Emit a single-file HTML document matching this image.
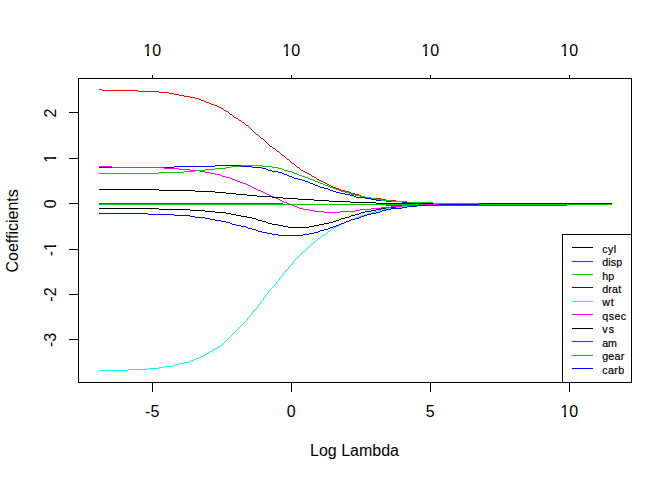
<!DOCTYPE html>
<html><head><meta charset="utf-8"><title>Ridge coefficients vs Log Lambda</title>
<style>
html,body{margin:0;padding:0;background:#fff;}
body{width:672px;height:480px;overflow:hidden;font-family:"Liberation Sans",sans-serif;}
svg{display:block;}
text{font-family:"Liberation Sans",sans-serif;fill:#000;}
</style></head><body>
<svg width="672" height="480" viewBox="0 0 672 480">
<rect width="672" height="480" fill="#fff"/>
<g shape-rendering="crispEdges">
<path fill="#000000" d="M152 75h1v1h-1zM291 75h1v1h-1zM430 75h1v1h-1zM569 75h1v1h-1zM152 76h1v1h-1zM291 76h1v1h-1zM430 76h1v1h-1zM569 76h1v1h-1zM152 77h1v1h-1zM291 77h1v1h-1zM430 77h1v1h-1zM569 77h1v1h-1zM78 78h554v1h-554zM78 79h1v1h-1zM631 79h1v1h-1zM78 80h1v1h-1zM631 80h1v1h-1zM78 81h1v1h-1zM631 81h1v1h-1zM78 82h1v1h-1zM631 82h1v1h-1zM78 83h1v1h-1zM631 83h1v1h-1zM78 84h1v1h-1zM631 84h1v1h-1zM78 85h1v1h-1zM631 85h1v1h-1zM78 86h1v1h-1zM631 86h1v1h-1zM78 87h1v1h-1zM631 87h1v1h-1zM78 88h1v1h-1zM631 88h1v1h-1zM78 89h1v1h-1zM631 89h1v1h-1zM78 90h1v1h-1zM631 90h1v1h-1zM78 91h1v1h-1zM631 91h1v1h-1zM78 92h1v1h-1zM631 92h1v1h-1zM78 93h1v1h-1zM631 93h1v1h-1zM78 94h1v1h-1zM631 94h1v1h-1zM78 95h1v1h-1zM631 95h1v1h-1zM78 96h1v1h-1zM631 96h1v1h-1zM78 97h1v1h-1zM631 97h1v1h-1zM78 98h1v1h-1zM631 98h1v1h-1zM78 99h1v1h-1zM631 99h1v1h-1zM78 100h1v1h-1zM631 100h1v1h-1zM78 101h1v1h-1zM631 101h1v1h-1zM78 102h1v1h-1zM631 102h1v1h-1zM78 103h1v1h-1zM631 103h1v1h-1zM78 104h1v1h-1zM631 104h1v1h-1zM78 105h1v1h-1zM631 105h1v1h-1zM78 106h1v1h-1zM631 106h1v1h-1zM78 107h1v1h-1zM631 107h1v1h-1zM78 108h1v1h-1zM631 108h1v1h-1zM78 109h1v1h-1zM631 109h1v1h-1zM78 110h1v1h-1zM631 110h1v1h-1zM78 111h1v1h-1zM631 111h1v1h-1zM69 112h10v1h-10zM631 112h1v1h-1zM78 113h1v1h-1zM631 113h1v1h-1zM78 114h1v1h-1zM631 114h1v1h-1zM78 115h1v1h-1zM631 115h1v1h-1zM78 116h1v1h-1zM631 116h1v1h-1zM78 117h1v1h-1zM631 117h1v1h-1zM78 118h1v1h-1zM631 118h1v1h-1zM78 119h1v1h-1zM631 119h1v1h-1zM78 120h1v1h-1zM631 120h1v1h-1zM78 121h1v1h-1zM631 121h1v1h-1zM78 122h1v1h-1zM631 122h1v1h-1zM78 123h1v1h-1zM631 123h1v1h-1zM78 124h1v1h-1zM631 124h1v1h-1zM78 125h1v1h-1zM631 125h1v1h-1zM78 126h1v1h-1zM631 126h1v1h-1zM78 127h1v1h-1zM631 127h1v1h-1zM78 128h1v1h-1zM631 128h1v1h-1zM78 129h1v1h-1zM631 129h1v1h-1zM78 130h1v1h-1zM631 130h1v1h-1zM78 131h1v1h-1zM631 131h1v1h-1zM78 132h1v1h-1zM631 132h1v1h-1zM78 133h1v1h-1zM631 133h1v1h-1zM78 134h1v1h-1zM631 134h1v1h-1zM78 135h1v1h-1zM631 135h1v1h-1zM78 136h1v1h-1zM631 136h1v1h-1zM78 137h1v1h-1zM631 137h1v1h-1zM78 138h1v1h-1zM631 138h1v1h-1zM78 139h1v1h-1zM631 139h1v1h-1zM78 140h1v1h-1zM631 140h1v1h-1zM78 141h1v1h-1zM631 141h1v1h-1zM78 142h1v1h-1zM631 142h1v1h-1zM78 143h1v1h-1zM631 143h1v1h-1zM78 144h1v1h-1zM631 144h1v1h-1zM78 145h1v1h-1zM631 145h1v1h-1zM78 146h1v1h-1zM631 146h1v1h-1zM78 147h1v1h-1zM631 147h1v1h-1zM78 148h1v1h-1zM631 148h1v1h-1zM78 149h1v1h-1zM631 149h1v1h-1zM78 150h1v1h-1zM631 150h1v1h-1zM78 151h1v1h-1zM631 151h1v1h-1zM78 152h1v1h-1zM631 152h1v1h-1zM78 153h1v1h-1zM631 153h1v1h-1zM78 154h1v1h-1zM631 154h1v1h-1zM78 155h1v1h-1zM631 155h1v1h-1zM78 156h1v1h-1zM631 156h1v1h-1zM78 157h1v1h-1zM631 157h1v1h-1zM69 158h10v1h-10zM631 158h1v1h-1zM78 159h1v1h-1zM631 159h1v1h-1zM78 160h1v1h-1zM631 160h1v1h-1zM78 161h1v1h-1zM631 161h1v1h-1zM78 162h1v1h-1zM631 162h1v1h-1zM78 163h1v1h-1zM631 163h1v1h-1zM78 164h1v1h-1zM631 164h1v1h-1zM78 165h1v1h-1zM631 165h1v1h-1zM78 166h1v1h-1zM631 166h1v1h-1zM78 167h1v1h-1zM631 167h1v1h-1zM78 168h1v1h-1zM631 168h1v1h-1zM78 169h1v1h-1zM631 169h1v1h-1zM78 170h1v1h-1zM631 170h1v1h-1zM78 171h1v1h-1zM631 171h1v1h-1zM78 172h1v1h-1zM631 172h1v1h-1zM78 173h1v1h-1zM631 173h1v1h-1zM78 174h1v1h-1zM631 174h1v1h-1zM78 175h1v1h-1zM631 175h1v1h-1zM78 176h1v1h-1zM631 176h1v1h-1zM78 177h1v1h-1zM631 177h1v1h-1zM78 178h1v1h-1zM631 178h1v1h-1zM78 179h1v1h-1zM631 179h1v1h-1zM78 180h1v1h-1zM631 180h1v1h-1zM78 181h1v1h-1zM631 181h1v1h-1zM78 182h1v1h-1zM631 182h1v1h-1zM78 183h1v1h-1zM631 183h1v1h-1zM78 184h1v1h-1zM631 184h1v1h-1zM78 185h1v1h-1zM631 185h1v1h-1zM78 186h1v1h-1zM631 186h1v1h-1zM78 187h1v1h-1zM631 187h1v1h-1zM78 188h1v1h-1zM631 188h1v1h-1zM78 189h1v1h-1zM99 189h60v1h-60zM631 189h1v1h-1zM78 190h1v1h-1zM159 190h36v1h-36zM631 190h1v1h-1zM78 191h1v1h-1zM195 191h20v1h-20zM631 191h1v1h-1zM78 192h1v1h-1zM215 192h11v1h-11zM631 192h1v1h-1zM78 193h1v1h-1zM226 193h10v1h-10zM631 193h1v1h-1zM78 194h1v1h-1zM236 194h11v1h-11zM631 194h1v1h-1zM78 195h1v1h-1zM247 195h10v1h-10zM631 195h1v1h-1zM78 196h1v1h-1zM257 196h15v1h-15zM631 196h1v1h-1zM78 197h1v1h-1zM272 197h11v1h-11zM631 197h1v1h-1zM78 198h1v1h-1zM283 198h15v1h-15zM631 198h1v1h-1zM78 199h1v1h-1zM298 199h16v1h-16zM631 199h1v1h-1zM78 200h1v1h-1zM314 200h15v1h-15zM631 200h1v1h-1zM78 201h1v1h-1zM329 201h21v1h-21zM631 201h1v1h-1zM78 202h1v1h-1zM350 202h26v1h-26zM631 202h1v1h-1zM69 203h10v1h-10zM376 203h57v1h-57zM631 203h1v1h-1zM78 204h1v1h-1zM631 204h1v1h-1zM78 205h1v1h-1zM631 205h1v1h-1zM78 206h1v1h-1zM631 206h1v1h-1zM78 207h1v1h-1zM391 207h5v1h-5zM631 207h1v1h-1zM78 208h1v1h-1zM99 208h60v1h-60zM381 208h5v1h-5zM631 208h1v1h-1zM78 209h1v1h-1zM159 209h31v1h-31zM376 209h5v1h-5zM631 209h1v1h-1zM78 210h1v1h-1zM190 210h15v1h-15zM371 210h5v1h-5zM631 210h1v1h-1zM78 211h1v1h-1zM205 211h10v1h-10zM365 211h6v1h-6zM631 211h1v1h-1zM78 212h1v1h-1zM215 212h11v1h-11zM361 212h4v1h-4zM631 212h1v1h-1zM78 213h1v1h-1zM226 213h5v1h-5zM359 213h2v1h-2zM631 213h1v1h-1zM78 214h1v1h-1zM231 214h5v1h-5zM355 214h4v1h-4zM631 214h1v1h-1zM78 215h1v1h-1zM236 215h5v1h-5zM351 215h4v1h-4zM631 215h1v1h-1zM78 216h1v1h-1zM241 216h6v1h-6zM349 216h2v1h-2zM631 216h1v1h-1zM78 217h1v1h-1zM247 217h5v1h-5zM345 217h4v1h-4zM631 217h1v1h-1zM78 218h1v1h-1zM252 218h4v1h-4zM341 218h4v1h-4zM631 218h1v1h-1zM78 219h1v1h-1zM256 219h2v1h-2zM339 219h2v1h-2zM631 219h1v1h-1zM78 220h1v1h-1zM258 220h4v1h-4zM336 220h3v1h-3zM631 220h1v1h-1zM78 221h1v1h-1zM262 221h4v1h-4zM333 221h3v1h-3zM631 221h1v1h-1zM78 222h1v1h-1zM266 222h2v1h-2zM329 222h4v1h-4zM631 222h1v1h-1zM78 223h1v1h-1zM268 223h4v1h-4zM324 223h5v1h-5zM631 223h1v1h-1zM78 224h1v1h-1zM272 224h6v1h-6zM319 224h5v1h-5zM631 224h1v1h-1zM78 225h1v1h-1zM278 225h5v1h-5zM314 225h5v1h-5zM631 225h1v1h-1zM78 226h1v1h-1zM283 226h5v1h-5zM309 226h5v1h-5zM631 226h1v1h-1zM78 227h1v1h-1zM288 227h21v1h-21zM631 227h1v1h-1zM78 228h1v1h-1zM631 228h1v1h-1zM78 229h1v1h-1zM631 229h1v1h-1zM78 230h1v1h-1zM631 230h1v1h-1zM78 231h1v1h-1zM631 231h1v1h-1zM78 232h1v1h-1zM631 232h1v1h-1zM78 233h1v1h-1zM631 233h1v1h-1zM78 234h1v1h-1zM562 234h70v1h-70zM78 235h1v1h-1zM562 235h1v1h-1zM631 235h1v1h-1zM78 236h1v1h-1zM562 236h1v1h-1zM631 236h1v1h-1zM78 237h1v1h-1zM562 237h1v1h-1zM631 237h1v1h-1zM78 238h1v1h-1zM562 238h1v1h-1zM631 238h1v1h-1zM78 239h1v1h-1zM562 239h1v1h-1zM631 239h1v1h-1zM78 240h1v1h-1zM562 240h1v1h-1zM631 240h1v1h-1zM78 241h1v1h-1zM562 241h1v1h-1zM631 241h1v1h-1zM78 242h1v1h-1zM562 242h1v1h-1zM631 242h1v1h-1zM78 243h1v1h-1zM562 243h1v1h-1zM631 243h1v1h-1zM78 244h1v1h-1zM562 244h1v1h-1zM631 244h1v1h-1zM78 245h1v1h-1zM562 245h1v1h-1zM631 245h1v1h-1zM78 246h1v1h-1zM562 246h1v1h-1zM631 246h1v1h-1zM78 247h1v1h-1zM562 247h1v1h-1zM572 247h21v1h-21zM631 247h1v1h-1zM78 248h1v1h-1zM562 248h1v1h-1zM631 248h1v1h-1zM69 249h10v1h-10zM562 249h1v1h-1zM631 249h1v1h-1zM78 250h1v1h-1zM562 250h1v1h-1zM631 250h1v1h-1zM78 251h1v1h-1zM562 251h1v1h-1zM631 251h1v1h-1zM78 252h1v1h-1zM562 252h1v1h-1zM631 252h1v1h-1zM78 253h1v1h-1zM562 253h1v1h-1zM631 253h1v1h-1zM78 254h1v1h-1zM562 254h1v1h-1zM631 254h1v1h-1zM78 255h1v1h-1zM562 255h1v1h-1zM631 255h1v1h-1zM78 256h1v1h-1zM562 256h1v1h-1zM631 256h1v1h-1zM78 257h1v1h-1zM562 257h1v1h-1zM631 257h1v1h-1zM78 258h1v1h-1zM562 258h1v1h-1zM631 258h1v1h-1zM78 259h1v1h-1zM562 259h1v1h-1zM631 259h1v1h-1zM78 260h1v1h-1zM562 260h1v1h-1zM631 260h1v1h-1zM78 261h1v1h-1zM562 261h1v1h-1zM631 261h1v1h-1zM78 262h1v1h-1zM562 262h1v1h-1zM631 262h1v1h-1zM78 263h1v1h-1zM562 263h1v1h-1zM631 263h1v1h-1zM78 264h1v1h-1zM562 264h1v1h-1zM631 264h1v1h-1zM78 265h1v1h-1zM562 265h1v1h-1zM631 265h1v1h-1zM78 266h1v1h-1zM562 266h1v1h-1zM631 266h1v1h-1zM78 267h1v1h-1zM562 267h1v1h-1zM631 267h1v1h-1zM78 268h1v1h-1zM562 268h1v1h-1zM631 268h1v1h-1zM78 269h1v1h-1zM562 269h1v1h-1zM631 269h1v1h-1zM78 270h1v1h-1zM562 270h1v1h-1zM631 270h1v1h-1zM78 271h1v1h-1zM562 271h1v1h-1zM631 271h1v1h-1zM78 272h1v1h-1zM562 272h1v1h-1zM631 272h1v1h-1zM78 273h1v1h-1zM562 273h1v1h-1zM631 273h1v1h-1zM78 274h1v1h-1zM562 274h1v1h-1zM631 274h1v1h-1zM78 275h1v1h-1zM562 275h1v1h-1zM631 275h1v1h-1zM78 276h1v1h-1zM562 276h1v1h-1zM631 276h1v1h-1zM78 277h1v1h-1zM562 277h1v1h-1zM631 277h1v1h-1zM78 278h1v1h-1zM562 278h1v1h-1zM631 278h1v1h-1zM78 279h1v1h-1zM562 279h1v1h-1zM631 279h1v1h-1zM78 280h1v1h-1zM562 280h1v1h-1zM631 280h1v1h-1zM78 281h1v1h-1zM562 281h1v1h-1zM631 281h1v1h-1zM78 282h1v1h-1zM562 282h1v1h-1zM631 282h1v1h-1zM78 283h1v1h-1zM562 283h1v1h-1zM631 283h1v1h-1zM78 284h1v1h-1zM562 284h1v1h-1zM631 284h1v1h-1zM78 285h1v1h-1zM562 285h1v1h-1zM631 285h1v1h-1zM78 286h1v1h-1zM562 286h1v1h-1zM631 286h1v1h-1zM78 287h1v1h-1zM562 287h1v1h-1zM631 287h1v1h-1zM78 288h1v1h-1zM562 288h1v1h-1zM631 288h1v1h-1zM78 289h1v1h-1zM562 289h1v1h-1zM631 289h1v1h-1zM78 290h1v1h-1zM562 290h1v1h-1zM631 290h1v1h-1zM78 291h1v1h-1zM562 291h1v1h-1zM631 291h1v1h-1zM78 292h1v1h-1zM562 292h1v1h-1zM631 292h1v1h-1zM78 293h1v1h-1zM562 293h1v1h-1zM631 293h1v1h-1zM69 294h10v1h-10zM562 294h1v1h-1zM631 294h1v1h-1zM78 295h1v1h-1zM562 295h1v1h-1zM631 295h1v1h-1zM78 296h1v1h-1zM562 296h1v1h-1zM631 296h1v1h-1zM78 297h1v1h-1zM562 297h1v1h-1zM631 297h1v1h-1zM78 298h1v1h-1zM562 298h1v1h-1zM631 298h1v1h-1zM78 299h1v1h-1zM562 299h1v1h-1zM631 299h1v1h-1zM78 300h1v1h-1zM562 300h1v1h-1zM631 300h1v1h-1zM78 301h1v1h-1zM562 301h1v1h-1zM631 301h1v1h-1zM78 302h1v1h-1zM562 302h1v1h-1zM631 302h1v1h-1zM78 303h1v1h-1zM562 303h1v1h-1zM631 303h1v1h-1zM78 304h1v1h-1zM562 304h1v1h-1zM631 304h1v1h-1zM78 305h1v1h-1zM562 305h1v1h-1zM631 305h1v1h-1zM78 306h1v1h-1zM562 306h1v1h-1zM631 306h1v1h-1zM78 307h1v1h-1zM562 307h1v1h-1zM631 307h1v1h-1zM78 308h1v1h-1zM562 308h1v1h-1zM631 308h1v1h-1zM78 309h1v1h-1zM562 309h1v1h-1zM631 309h1v1h-1zM78 310h1v1h-1zM562 310h1v1h-1zM631 310h1v1h-1zM78 311h1v1h-1zM562 311h1v1h-1zM631 311h1v1h-1zM78 312h1v1h-1zM562 312h1v1h-1zM631 312h1v1h-1zM78 313h1v1h-1zM562 313h1v1h-1zM631 313h1v1h-1zM78 314h1v1h-1zM562 314h1v1h-1zM631 314h1v1h-1zM78 315h1v1h-1zM562 315h1v1h-1zM631 315h1v1h-1zM78 316h1v1h-1zM562 316h1v1h-1zM631 316h1v1h-1zM78 317h1v1h-1zM562 317h1v1h-1zM631 317h1v1h-1zM78 318h1v1h-1zM562 318h1v1h-1zM631 318h1v1h-1zM78 319h1v1h-1zM562 319h1v1h-1zM631 319h1v1h-1zM78 320h1v1h-1zM562 320h1v1h-1zM631 320h1v1h-1zM78 321h1v1h-1zM562 321h1v1h-1zM631 321h1v1h-1zM78 322h1v1h-1zM562 322h1v1h-1zM631 322h1v1h-1zM78 323h1v1h-1zM562 323h1v1h-1zM631 323h1v1h-1zM78 324h1v1h-1zM562 324h1v1h-1zM631 324h1v1h-1zM78 325h1v1h-1zM562 325h1v1h-1zM631 325h1v1h-1zM78 326h1v1h-1zM562 326h1v1h-1zM631 326h1v1h-1zM78 327h1v1h-1zM562 327h1v1h-1zM631 327h1v1h-1zM78 328h1v1h-1zM562 328h1v1h-1zM572 328h21v1h-21zM631 328h1v1h-1zM78 329h1v1h-1zM562 329h1v1h-1zM631 329h1v1h-1zM78 330h1v1h-1zM562 330h1v1h-1zM631 330h1v1h-1zM78 331h1v1h-1zM562 331h1v1h-1zM631 331h1v1h-1zM78 332h1v1h-1zM562 332h1v1h-1zM631 332h1v1h-1zM78 333h1v1h-1zM562 333h1v1h-1zM631 333h1v1h-1zM78 334h1v1h-1zM562 334h1v1h-1zM631 334h1v1h-1zM78 335h1v1h-1zM562 335h1v1h-1zM631 335h1v1h-1zM78 336h1v1h-1zM562 336h1v1h-1zM631 336h1v1h-1zM78 337h1v1h-1zM562 337h1v1h-1zM631 337h1v1h-1zM78 338h1v1h-1zM562 338h1v1h-1zM631 338h1v1h-1zM69 339h10v1h-10zM562 339h1v1h-1zM631 339h1v1h-1zM78 340h1v1h-1zM562 340h1v1h-1zM631 340h1v1h-1zM78 341h1v1h-1zM562 341h1v1h-1zM631 341h1v1h-1zM78 342h1v1h-1zM562 342h1v1h-1zM631 342h1v1h-1zM78 343h1v1h-1zM562 343h1v1h-1zM631 343h1v1h-1zM78 344h1v1h-1zM562 344h1v1h-1zM631 344h1v1h-1zM78 345h1v1h-1zM562 345h1v1h-1zM631 345h1v1h-1zM78 346h1v1h-1zM562 346h1v1h-1zM631 346h1v1h-1zM78 347h1v1h-1zM562 347h1v1h-1zM631 347h1v1h-1zM78 348h1v1h-1zM562 348h1v1h-1zM631 348h1v1h-1zM78 349h1v1h-1zM562 349h1v1h-1zM631 349h1v1h-1zM78 350h1v1h-1zM562 350h1v1h-1zM631 350h1v1h-1zM78 351h1v1h-1zM562 351h1v1h-1zM631 351h1v1h-1zM78 352h1v1h-1zM562 352h1v1h-1zM631 352h1v1h-1zM78 353h1v1h-1zM562 353h1v1h-1zM631 353h1v1h-1zM78 354h1v1h-1zM562 354h1v1h-1zM631 354h1v1h-1zM78 355h1v1h-1zM562 355h1v1h-1zM631 355h1v1h-1zM78 356h1v1h-1zM562 356h1v1h-1zM631 356h1v1h-1zM78 357h1v1h-1zM562 357h1v1h-1zM631 357h1v1h-1zM78 358h1v1h-1zM562 358h1v1h-1zM631 358h1v1h-1zM78 359h1v1h-1zM562 359h1v1h-1zM631 359h1v1h-1zM78 360h1v1h-1zM562 360h1v1h-1zM631 360h1v1h-1zM78 361h1v1h-1zM562 361h1v1h-1zM631 361h1v1h-1zM78 362h1v1h-1zM562 362h1v1h-1zM631 362h1v1h-1zM78 363h1v1h-1zM562 363h1v1h-1zM631 363h1v1h-1zM78 364h1v1h-1zM562 364h1v1h-1zM631 364h1v1h-1zM78 365h1v1h-1zM562 365h1v1h-1zM631 365h1v1h-1zM78 366h1v1h-1zM562 366h1v1h-1zM631 366h1v1h-1zM78 367h1v1h-1zM562 367h1v1h-1zM631 367h1v1h-1zM78 368h1v1h-1zM562 368h1v1h-1zM631 368h1v1h-1zM78 369h1v1h-1zM562 369h1v1h-1zM631 369h1v1h-1zM78 370h1v1h-1zM562 370h1v1h-1zM631 370h1v1h-1zM78 371h1v1h-1zM562 371h1v1h-1zM631 371h1v1h-1zM78 372h1v1h-1zM562 372h1v1h-1zM631 372h1v1h-1zM78 373h1v1h-1zM562 373h1v1h-1zM631 373h1v1h-1zM78 374h1v1h-1zM562 374h1v1h-1zM631 374h1v1h-1zM78 375h1v1h-1zM562 375h1v1h-1zM631 375h1v1h-1zM78 376h1v1h-1zM562 376h1v1h-1zM631 376h1v1h-1zM78 377h1v1h-1zM562 377h1v1h-1zM631 377h1v1h-1zM78 378h1v1h-1zM562 378h1v1h-1zM631 378h1v1h-1zM78 379h1v1h-1zM562 379h1v1h-1zM631 379h1v1h-1zM78 380h1v1h-1zM562 380h1v1h-1zM631 380h1v1h-1zM78 381h1v1h-1zM562 381h1v1h-1zM631 381h1v1h-1zM78 382h554v1h-554zM152 383h1v1h-1zM291 383h1v1h-1zM430 383h1v1h-1zM569 383h1v1h-1zM152 384h1v1h-1zM291 384h1v1h-1zM430 384h1v1h-1zM569 384h1v1h-1zM152 385h1v1h-1zM291 385h1v1h-1zM430 385h1v1h-1zM569 385h1v1h-1zM152 386h1v1h-1zM291 386h1v1h-1zM430 386h1v1h-1zM569 386h1v1h-1zM152 387h1v1h-1zM291 387h1v1h-1zM430 387h1v1h-1zM569 387h1v1h-1zM152 388h1v1h-1zM291 388h1v1h-1zM430 388h1v1h-1zM569 388h1v1h-1zM152 389h1v1h-1zM291 389h1v1h-1zM430 389h1v1h-1zM569 389h1v1h-1zM152 390h1v1h-1zM291 390h1v1h-1zM430 390h1v1h-1zM569 390h1v1h-1zM152 391h1v1h-1zM291 391h1v1h-1zM430 391h1v1h-1zM569 391h1v1h-1z"/>
<path fill="#FF0000" d="M99 89h3v1h-3zM102 90h36v1h-36zM138 91h21v1h-21zM159 92h10v1h-10zM169 93h5v1h-5zM174 94h5v1h-5zM179 95h5v1h-5zM184 96h6v1h-6zM190 97h5v1h-5zM195 98h4v1h-4zM199 99h2v1h-2zM201 100h3v1h-3zM204 101h2v1h-2zM206 102h3v1h-3zM209 103h2v1h-2zM211 104h3v1h-3zM214 105h3v1h-3zM217 106h2v1h-2zM219 107h2v1h-2zM221 108h2v1h-2zM223 109h1v1h-1zM224 110h2v1h-2zM226 111h2v1h-2zM228 112h1v1h-1zM229 113h1v1h-1zM230 114h2v1h-2zM232 115h1v1h-1zM233 116h1v1h-1zM234 117h2v1h-2zM236 118h2v1h-2zM238 119h1v1h-1zM239 120h2v1h-2zM241 121h1v1h-1zM242 122h2v1h-2zM244 123h1v1h-1zM245 124h1v1h-1zM246 125h2v1h-2zM248 126h1v1h-1zM249 127h1v1h-1zM250 128h1v1h-1zM251 129h1v1h-1zM252 130h1v1h-1zM253 131h1v1h-1zM254 132h1v1h-1zM255 133h1v1h-1zM256 134h2v1h-2zM258 135h1v1h-1zM259 136h1v1h-1zM260 137h1v1h-1zM261 138h2v1h-2zM263 139h1v1h-1zM264 140h1v1h-1zM265 141h1v1h-1zM266 142h1v1h-1zM267 143h1v1h-1zM268 144h1v1h-1zM269 145h1v1h-1zM270 146h2v1h-2zM272 147h1v1h-1zM273 148h2v1h-2zM275 149h1v1h-1zM276 150h1v1h-1zM277 151h2v1h-2zM279 152h1v1h-1zM280 153h1v1h-1zM281 154h1v1h-1zM282 155h2v1h-2zM284 156h1v1h-1zM285 157h1v1h-1zM286 158h1v1h-1zM287 159h2v1h-2zM289 160h1v1h-1zM290 161h1v1h-1zM291 162h1v1h-1zM292 163h2v1h-2zM294 164h1v1h-1zM295 165h1v1h-1zM296 166h1v1h-1zM297 167h2v1h-2zM299 168h1v1h-1zM300 169h1v1h-1zM301 170h2v1h-2zM303 171h2v1h-2zM305 172h2v1h-2zM307 173h2v1h-2zM309 174h2v1h-2zM311 175h1v1h-1zM312 176h2v1h-2zM314 177h2v1h-2zM316 178h1v1h-1zM317 179h2v1h-2zM319 180h2v1h-2zM321 181h2v1h-2zM323 182h2v1h-2zM325 183h2v1h-2zM327 184h2v1h-2zM329 185h2v1h-2zM331 186h2v1h-2zM333 187h3v1h-3zM336 188h3v1h-3zM339 189h2v1h-2zM341 190h4v1h-4zM345 191h4v1h-4zM349 192h2v1h-2zM351 193h4v1h-4zM355 194h4v1h-4zM360 195h1v1h-1zM376 198h5v1h-5zM381 199h5v1h-5zM391 200h5v1h-5zM99 203h184v1h-184zM386 205h16v1h-16zM438 205h129v1h-129zM572 261h21v1h-21zM572 341h21v1h-21z"/>
<path fill="#00CD00" d="M241 165h21v1h-21zM231 166h10v1h-10zM262 166h10v1h-10zM226 167h5v1h-5zM272 167h6v1h-6zM215 168h11v1h-11zM278 168h4v1h-4zM205 169h10v1h-10zM282 169h2v1h-2zM195 170h10v1h-10zM284 170h4v1h-4zM184 171h11v1h-11zM288 171h4v1h-4zM159 172h25v1h-25zM292 172h2v1h-2zM99 173h60v1h-60zM294 173h3v1h-3zM297 174h2v1h-2zM299 175h3v1h-3zM302 176h3v1h-3zM305 177h3v1h-3zM308 178h2v1h-2zM310 179h3v1h-3zM313 180h2v1h-2zM315 181h3v1h-3zM318 182h2v1h-2zM320 183h3v1h-3zM323 184h2v1h-2zM325 185h3v1h-3zM328 186h2v1h-2zM330 187h3v1h-3zM333 188h3v1h-3zM336 189h3v1h-3zM339 190h2v1h-2zM341 191h4v1h-4zM345 192h4v1h-4zM349 193h2v1h-2zM351 194h4v1h-4zM355 195h5v1h-5zM360 196h5v1h-5zM365 197h6v1h-6zM371 198h5v1h-5zM376 199h5v1h-5zM381 200h10v1h-10zM391 201h16v1h-16zM407 202h26v1h-26zM433 203h46v1h-46zM99 204h190v1h-190zM292 204h130v1h-130zM479 204h133v1h-133zM572 274h21v1h-21zM572 355h21v1h-21z"/>
<path fill="#0000FF" d="M215 165h26v1h-26zM174 166h41v1h-41zM241 166h11v1h-11zM99 167h13v1h-13zM164 167h10v1h-10zM252 167h10v1h-10zM262 168h4v1h-4zM266 169h2v1h-2zM268 170h4v1h-4zM272 171h6v1h-6zM278 172h4v1h-4zM282 173h2v1h-2zM284 174h3v1h-3zM287 175h2v1h-2zM289 176h3v1h-3zM292 177h2v1h-2zM294 178h4v1h-4zM298 179h4v1h-4zM302 180h3v1h-3zM305 181h3v1h-3zM308 182h2v1h-2zM310 183h3v1h-3zM313 184h2v1h-2zM315 185h3v1h-3zM318 186h2v1h-2zM320 187h4v1h-4zM324 188h4v1h-4zM328 189h2v1h-2zM330 190h3v1h-3zM333 191h3v1h-3zM336 192h4v1h-4zM340 193h5v1h-5zM345 194h5v1h-5zM350 195h4v1h-4zM354 196h2v1h-2zM356 197h9v1h-9zM365 198h6v1h-6zM371 199h5v1h-5zM376 200h5v1h-5zM386 201h5v1h-5zM402 202h5v1h-5zM479 203h133v1h-133zM438 204h41v1h-41zM417 205h21v1h-21zM407 206h10v1h-10zM402 207h5v1h-5zM391 208h11v1h-11zM386 209h5v1h-5zM382 210h4v1h-4zM380 211h2v1h-2zM376 212h4v1h-4zM99 213h49v1h-49zM371 213h5v1h-5zM148 214h26v1h-26zM367 214h4v1h-4zM174 215h16v1h-16zM364 215h3v1h-3zM190 216h5v1h-5zM361 216h3v1h-3zM195 217h10v1h-10zM359 217h2v1h-2zM205 218h5v1h-5zM355 218h4v1h-4zM210 219h5v1h-5zM351 219h4v1h-4zM215 220h6v1h-6zM349 220h2v1h-2zM221 221h5v1h-5zM346 221h3v1h-3zM226 222h4v1h-4zM344 222h2v1h-2zM230 223h2v1h-2zM341 223h3v1h-3zM232 224h4v1h-4zM339 224h2v1h-2zM236 225h5v1h-5zM336 225h3v1h-3zM241 226h5v1h-5zM333 226h3v1h-3zM246 227h2v1h-2zM330 227h3v1h-3zM248 228h4v1h-4zM328 228h2v1h-2zM252 229h4v1h-4zM324 229h4v1h-4zM256 230h2v1h-2zM320 230h4v1h-4zM258 231h4v1h-4zM318 231h2v1h-2zM262 232h5v1h-5zM314 232h4v1h-4zM267 233h5v1h-5zM309 233h5v1h-5zM272 234h6v1h-6zM303 234h6v1h-6zM278 235h25v1h-25zM572 287h21v1h-21zM572 368h21v1h-21z"/>
<path fill="#00FFFF" d="M402 206h5v1h-5zM396 207h6v1h-6zM386 208h5v1h-5zM381 209h5v1h-5zM377 210h4v1h-4zM375 211h2v1h-2zM371 212h4v1h-4zM367 213h4v1h-4zM364 214h3v1h-3zM361 215h3v1h-3zM359 216h2v1h-2zM356 217h3v1h-3zM354 218h1v1h-1zM341 224h1v1h-1zM339 225h1v1h-1zM336 226h2v1h-2zM334 227h2v1h-2zM332 228h2v1h-2zM331 229h1v1h-1zM330 230h1v1h-1zM328 231h2v1h-2zM327 232h1v1h-1zM326 233h1v1h-1zM324 234h2v1h-2zM322 235h2v1h-2zM321 236h1v1h-1zM320 237h1v1h-1zM318 238h2v1h-2zM317 239h1v1h-1zM316 240h1v1h-1zM315 241h1v1h-1zM313 242h2v1h-2zM312 243h1v1h-1zM311 244h1v1h-1zM310 245h1v1h-1zM309 246h1v1h-1zM308 247h1v1h-1zM307 248h1v1h-1zM306 249h1v1h-1zM305 250h1v1h-1zM303 251h2v1h-2zM302 252h1v1h-1zM301 253h1v1h-1zM300 254h1v1h-1zM299 255h1v1h-1zM298 256h1v1h-1zM297 257h1v1h-1zM296 258h1v1h-1zM295 259h1v1h-1zM294 260h1v1h-1zM293 261h1v1h-1zM293 262h1v1h-1zM292 263h1v1h-1zM291 264h1v1h-1zM290 265h1v1h-1zM289 266h1v1h-1zM288 267h1v1h-1zM288 268h1v1h-1zM287 269h1v1h-1zM286 270h1v1h-1zM285 271h1v1h-1zM284 272h1v1h-1zM283 273h1v1h-1zM283 274h1v1h-1zM282 275h1v1h-1zM281 276h1v1h-1zM280 277h1v1h-1zM279 278h1v1h-1zM279 279h1v1h-1zM278 280h1v1h-1zM277 281h1v1h-1zM276 282h1v1h-1zM276 283h1v1h-1zM275 284h1v1h-1zM274 285h1v1h-1zM273 286h1v1h-1zM272 287h1v1h-1zM271 288h1v1h-1zM270 289h1v1h-1zM269 290h1v1h-1zM268 291h1v1h-1zM268 292h1v1h-1zM267 293h1v1h-1zM266 294h1v1h-1zM265 295h1v1h-1zM265 296h1v1h-1zM264 297h1v1h-1zM263 298h1v1h-1zM263 299h1v1h-1zM262 300h1v1h-1zM261 301h1v1h-1zM572 301h21v1h-21zM260 302h1v1h-1zM260 303h1v1h-1zM259 304h1v1h-1zM258 305h1v1h-1zM257 306h1v1h-1zM257 307h1v1h-1zM256 308h1v1h-1zM255 309h1v1h-1zM254 310h1v1h-1zM253 311h1v1h-1zM252 312h1v1h-1zM252 313h1v1h-1zM251 314h1v1h-1zM250 315h1v1h-1zM249 316h1v1h-1zM248 317h1v1h-1zM247 318h1v1h-1zM247 319h1v1h-1zM246 320h1v1h-1zM245 321h1v1h-1zM244 322h1v1h-1zM243 323h1v1h-1zM242 324h1v1h-1zM241 325h1v1h-1zM240 326h1v1h-1zM239 327h1v1h-1zM238 328h1v1h-1zM237 329h1v1h-1zM236 330h1v1h-1zM235 331h1v1h-1zM234 332h1v1h-1zM233 333h1v1h-1zM232 334h1v1h-1zM231 335h1v1h-1zM230 336h1v1h-1zM229 337h1v1h-1zM228 338h1v1h-1zM227 339h1v1h-1zM226 340h1v1h-1zM225 341h1v1h-1zM224 342h1v1h-1zM223 343h1v1h-1zM222 344h1v1h-1zM220 345h2v1h-2zM219 346h1v1h-1zM217 347h2v1h-2zM215 348h2v1h-2zM213 349h2v1h-2zM212 350h1v1h-1zM210 351h2v1h-2zM208 352h2v1h-2zM207 353h1v1h-1zM205 354h2v1h-2zM203 355h2v1h-2zM201 356h2v1h-2zM199 357h2v1h-2zM196 358h3v1h-3zM194 359h2v1h-2zM191 360h3v1h-3zM189 361h2v1h-2zM184 362h5v1h-5zM179 363h5v1h-5zM175 364h4v1h-4zM173 365h2v1h-2zM164 366h9v1h-9zM159 367h5v1h-5zM148 368h11v1h-11zM128 369h20v1h-20zM99 370h29v1h-29z"/>
<path fill="#FF00FF" d="M99 166h13v1h-13zM112 167h52v1h-52zM164 168h15v1h-15zM179 169h11v1h-11zM190 170h5v1h-5zM200 171h5v1h-5zM205 172h5v1h-5zM210 173h5v1h-5zM215 174h5v1h-5zM220 175h2v1h-2zM222 176h4v1h-4zM226 177h4v1h-4zM230 178h2v1h-2zM232 179h3v1h-3zM235 180h2v1h-2zM237 181h3v1h-3zM240 182h3v1h-3zM243 183h3v1h-3zM246 184h2v1h-2zM248 185h2v1h-2zM250 186h2v1h-2zM252 187h2v1h-2zM254 188h2v1h-2zM256 189h2v1h-2zM258 190h3v1h-3zM261 191h2v1h-2zM263 192h2v1h-2zM265 193h2v1h-2zM267 194h2v1h-2zM269 195h2v1h-2zM272 196h2v1h-2zM276 198h2v1h-2zM278 199h2v1h-2zM280 200h2v1h-2zM282 201h2v1h-2zM284 202h3v1h-3zM287 203h2v1h-2zM289 204h3v1h-3zM422 204h16v1h-16zM292 205h2v1h-2zM402 205h15v1h-15zM294 206h3v1h-3zM391 206h11v1h-11zM297 207h2v1h-2zM381 207h10v1h-10zM299 208h4v1h-4zM371 208h10v1h-10zM303 209h6v1h-6zM360 209h11v1h-11zM309 210h5v1h-5zM355 210h5v1h-5zM314 211h10v1h-10zM340 211h15v1h-15zM324 212h16v1h-16zM572 314h21v1h-21z"/>
</g>
<g>
<text x="152.23" y="417.00" font-size="16" text-anchor="middle">-5</text>
<text x="152.23" y="56.00" font-size="16" text-anchor="middle">10</text>
<text x="291.20" y="417.00" font-size="16" text-anchor="middle">0</text>
<text x="291.20" y="56.00" font-size="16" text-anchor="middle">10</text>
<text x="430.17" y="417.00" font-size="16" text-anchor="middle">5</text>
<text x="430.17" y="56.00" font-size="16" text-anchor="middle">10</text>
<text x="569.15" y="417.00" font-size="16" text-anchor="middle">10</text>
<text x="569.15" y="56.00" font-size="16" text-anchor="middle">10</text>
<text x="56.00" y="112.94" font-size="16" text-anchor="middle" transform="rotate(-90 56.00 112.94)">2</text>
<text x="56.00" y="158.34" font-size="16" text-anchor="middle" transform="rotate(-90 56.00 158.34)">1</text>
<text x="56.00" y="203.73" font-size="16" text-anchor="middle" transform="rotate(-90 56.00 203.73)">0</text>
<text x="56.00" y="249.12" font-size="16" text-anchor="middle" transform="rotate(-90 56.00 249.12)">-1</text>
<text x="56.00" y="294.52" font-size="16" text-anchor="middle" transform="rotate(-90 56.00 294.52)">-2</text>
<text x="56.00" y="339.91" font-size="16" text-anchor="middle" transform="rotate(-90 56.00 339.91)">-3</text>
<text x="354.50" y="456.00" font-size="16" text-anchor="middle">Log Lambda</text>
<text x="18.00" y="230.90" font-size="16" text-anchor="middle" transform="rotate(-90 18.00 230.90)">Coefficients</text>
<text x="602.20" y="252.68" font-size="10.67" text-anchor="start" textLength="14" lengthAdjust="spacing" stroke="#000" stroke-width="0.2">cyl</text>
<text x="602.20" y="266.12" font-size="10.67" text-anchor="start" textLength="20" lengthAdjust="spacing" stroke="#000" stroke-width="0.2">disp</text>
<text x="602.20" y="279.56" font-size="10.67" text-anchor="start" textLength="12" lengthAdjust="spacing" stroke="#000" stroke-width="0.2">hp</text>
<text x="602.20" y="293.00" font-size="10.67" text-anchor="start" textLength="19" lengthAdjust="spacing" stroke="#000" stroke-width="0.2">drat</text>
<text x="602.20" y="306.44" font-size="10.67" text-anchor="start" textLength="11.6" lengthAdjust="spacing" stroke="#000" stroke-width="0.2">wt</text>
<text x="602.20" y="319.88" font-size="10.67" text-anchor="start" textLength="24" lengthAdjust="spacing" stroke="#000" stroke-width="0.2">qsec</text>
<text x="602.20" y="333.32" font-size="10.67" text-anchor="start" textLength="12" lengthAdjust="spacing" stroke="#000" stroke-width="0.2">vs</text>
<text x="602.20" y="346.76" font-size="10.67" text-anchor="start" textLength="14.6" lengthAdjust="spacing" stroke="#000" stroke-width="0.2">am</text>
<text x="602.20" y="360.20" font-size="10.67" text-anchor="start" textLength="22" lengthAdjust="spacing" stroke="#000" stroke-width="0.2">gear</text>
<text x="602.20" y="373.64" font-size="10.67" text-anchor="start" textLength="22" lengthAdjust="spacing" stroke="#000" stroke-width="0.2">carb</text>
</g>
<g fill="#fff" shape-rendering="crispEdges">
<rect x="143" y="54" width="4" height="2.5"/>
<rect x="149" y="54" width="3" height="2.5"/>
<rect x="282" y="54" width="4" height="2.5"/>
<rect x="288" y="54" width="3" height="2.5"/>
<rect x="421" y="54" width="4" height="2.5"/>
<rect x="427" y="54" width="3" height="2.5"/>
<rect x="560" y="54" width="4" height="2.5"/>
<rect x="566" y="54" width="3" height="2.5"/>
<rect x="560" y="415" width="4" height="2.5"/>
<rect x="566" y="415" width="3" height="2.5"/>
<rect x="53.5" y="153.5" width="4" height="3.5"/>
<rect x="53.5" y="159" width="4" height="3.5"/>
<rect x="53.5" y="241.5" width="4" height="3.5"/>
<rect x="53.5" y="247" width="4" height="3.5"/>
</g>
</svg>
</body></html>
